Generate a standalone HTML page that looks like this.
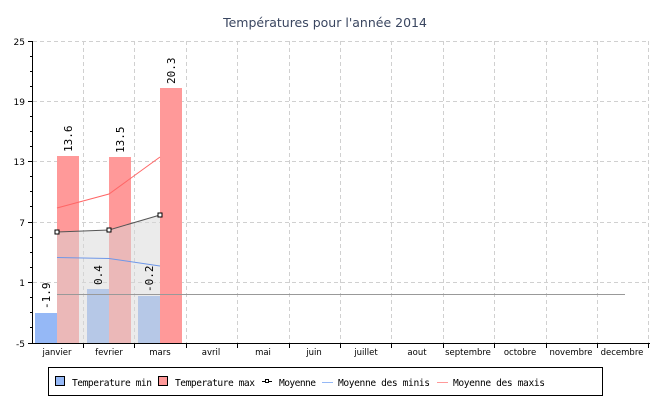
<!DOCTYPE html>
<html><head><meta charset="utf-8"><style>body{margin:0;background:#fff}svg{display:block}</style></head><body>
<svg width="650" height="400" xmlns="http://www.w3.org/2000/svg" font-family="DejaVu Sans, sans-serif">
<rect width="650" height="400" fill="#fff"/>
<text x="325" y="27" text-anchor="middle" font-size="12.5" fill="#3a4660">Températures pour l'année 2014</text>
<g stroke="#d0d0d0" stroke-dasharray="4,3" stroke-width="1">
<line x1="33" y1="41.5" x2="649" y2="41.5"/><line x1="33" y1="101.5" x2="649" y2="101.5"/><line x1="33" y1="161.5" x2="649" y2="161.5"/><line x1="33" y1="222.5" x2="649" y2="222.5"/><line x1="33" y1="282.5" x2="649" y2="282.5"/>
<line x1="83.5" y1="41" x2="83.5" y2="343"/><line x1="134.5" y1="41" x2="134.5" y2="343"/><line x1="186.5" y1="41" x2="186.5" y2="343"/><line x1="237.5" y1="41" x2="237.5" y2="343"/><line x1="289.5" y1="41" x2="289.5" y2="343"/><line x1="340.5" y1="41" x2="340.5" y2="343"/><line x1="391.5" y1="41" x2="391.5" y2="343"/><line x1="443.5" y1="41" x2="443.5" y2="343"/><line x1="494.5" y1="41" x2="494.5" y2="343"/><line x1="546.5" y1="41" x2="546.5" y2="343"/><line x1="597.5" y1="41" x2="597.5" y2="343"/><line x1="648.5" y1="41" x2="648.5" y2="343"/>
</g>
<g>
<rect x="35" y="313" width="22" height="30" fill="#95b8f6"/>
<rect x="57" y="156" width="22" height="187" fill="#f99"/>
<rect x="87" y="289" width="22" height="54" fill="#95b8f6"/>
<rect x="109" y="157" width="22" height="186" fill="#f99"/>
<rect x="138" y="296" width="22" height="47" fill="#95b8f6"/>
<rect x="160" y="88" width="22" height="255" fill="#f99"/>
</g>
<polygon points="57,232 109,230 160,215 160,343 57,343" fill="#d8d8d8" opacity="0.5"/>
<line x1="57" y1="294.5" x2="625" y2="294.5" stroke="#999" stroke-width="1"/>
<polyline points="57,208 109,194 160,157" fill="none" stroke="#f66" stroke-width="1"/>
<polyline points="57,257.5 109,258.5 160,266" fill="none" stroke="#6f97e8" stroke-width="1"/>
<polyline points="57,232 109,230 160,215" fill="none" stroke="#555" stroke-width="1"/>
<g fill="#fff" stroke="#000" stroke-width="1"><rect x="55" y="230" width="4" height="4"/><rect x="107" y="228" width="4" height="4"/><rect x="158" y="213" width="4" height="4"/></g>
<g font-family="DejaVu Sans Mono, monospace" font-size="11" fill="#000">
<text transform="translate(50,309) rotate(-90)">-1.9</text>
<text transform="translate(72,152) rotate(-90)">13.6</text>
<text transform="translate(102,285) rotate(-90)">0.4</text>
<text transform="translate(124,153) rotate(-90)">13.5</text>
<text transform="translate(153,292) rotate(-90)">-0.2</text>
<text transform="translate(175,84) rotate(-90)">20.3</text>
</g>
<g stroke="#000" stroke-width="1">
<line x1="32.5" y1="41" x2="32.5" y2="344"/><line x1="32" y1="343.5" x2="650" y2="343.5"/>
<line x1="28" y1="41.5" x2="33" y2="41.5"/><line x1="28" y1="101.5" x2="33" y2="101.5"/><line x1="28" y1="161.5" x2="33" y2="161.5"/><line x1="28" y1="222.5" x2="33" y2="222.5"/><line x1="28" y1="282.5" x2="33" y2="282.5"/><line x1="28" y1="343.5" x2="33" y2="343.5"/>
<path d="M30 71.5h3M30 131.5h3M30 191.5h3M30 252.5h3M30 312.5h3M30 56.5h3M30 86.5h3M30 116.5h3M30 146.5h3M30 176.5h3M30 206.5h3M30 237.5h3M30 267.5h3M30 297.5h3M30 327.5h3"/>
<path d="M83.5 343v5M134.5 343v5M186.5 343v5M237.5 343v5M289.5 343v5M340.5 343v5M391.5 343v5M443.5 343v5M494.5 343v5M546.5 343v5M597.5 343v5M648.5 343v5"/>
</g>
<g font-size="9" fill="#000" text-anchor="end">
<text x="25" y="45">25</text><text x="25" y="105">19</text><text x="25" y="165">13</text><text x="25" y="226">7</text><text x="25" y="286">1</text><text x="25" y="347">-5</text>
</g>
<g font-size="8.5" fill="#000" text-anchor="middle">
<text x="57" y="355">janvier</text><text x="109" y="355">fevrier</text><text x="160" y="355">mars</text><text x="211" y="355">avril</text><text x="263" y="355">mai</text><text x="314" y="355">juin</text><text x="366" y="355">juillet</text><text x="417" y="355">aout</text><text x="468" y="355">septembre</text><text x="520" y="355">octobre</text><text x="571" y="355">novembre</text><text x="622" y="355">decembre</text>
</g>
<rect x="48.5" y="367.5" width="554" height="28" fill="#fff" stroke="#000"/>
<rect x="55.5" y="376.5" width="9" height="9" fill="#95b8f6" stroke="#000"/>
<rect x="158.5" y="376.5" width="9" height="9" fill="#f99" stroke="#000"/>
<line x1="262" y1="381.5" x2="272" y2="381.5" stroke="#000"/><rect x="265.5" y="379.5" width="3" height="3" fill="#fff" stroke="#000"/>
<line x1="322" y1="382.5" x2="333" y2="382.5" stroke="#95b8f6"/>
<line x1="437" y1="382.5" x2="448" y2="382.5" stroke="#f99"/>
<g font-family="DejaVu Sans Mono, monospace" font-size="9.6" fill="#000">
<text x="72" y="386" textLength="80">Temperature min</text>
<text x="175" y="386" textLength="80">Temperature max</text>
<text x="279" y="386" textLength="37">Moyenne</text>
<text x="338" y="386" textLength="92">Moyenne des minis</text>
<text x="453" y="386" textLength="92">Moyenne des maxis</text>
</g>
</svg>
</body></html>
